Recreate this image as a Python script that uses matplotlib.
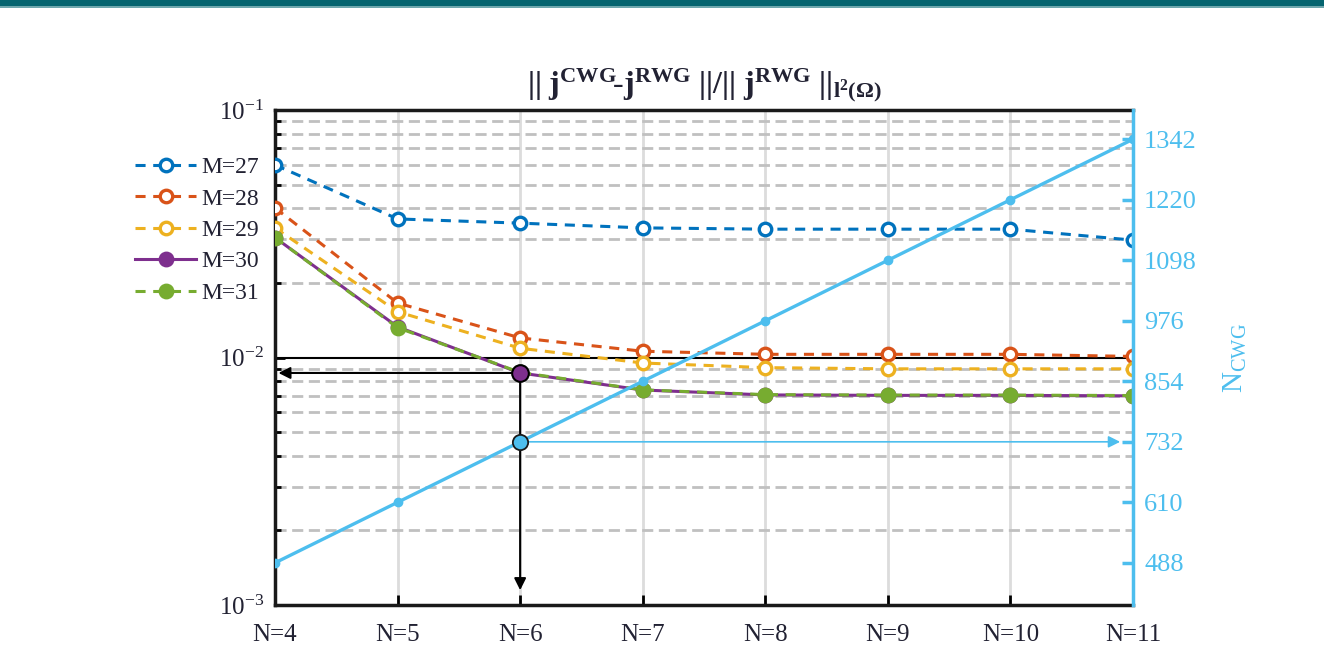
import matplotlib
matplotlib.use("Agg")
import matplotlib.pyplot as plt
from matplotlib.patches import Rectangle
from matplotlib.ticker import LogLocator, NullFormatter, FixedLocator

plt.rcParams['font.family'] = ['Liberation Serif', 'DejaVu Serif']
plt.rcParams['mathtext.fontset'] = 'custom'
plt.rcParams['mathtext.rm'] = 'Liberation Serif'
plt.rcParams['mathtext.it'] = 'Liberation Serif:italic'
plt.rcParams['mathtext.bf'] = 'Liberation Serif:bold'

# ---- data ----
n_values = [4, 5, 6, 7, 8, 9, 10, 11]
n_labels = ['N=4', 'N=5', 'N=6', 'N=7', 'N=8', 'N=9', 'N=10', 'N=11']
err_m27 = [0.0600, 0.0363, 0.0349, 0.0334, 0.0330, 0.0330, 0.0330, 0.0298]
err_m28 = [0.0402, 0.0166, 0.0120, 0.0106, 0.0103, 0.0103, 0.0103, 0.0101]
err_m29 = [0.0334, 0.0153, 0.0109, 0.0095, 0.0091, 0.0090, 0.0090, 0.0090]
err_m30 = [0.0305, 0.0133, 0.00866, 0.00739, 0.00706, 0.00703, 0.00703, 0.00700]
err_m31 = [0.0305, 0.0132, 0.00870, 0.00740, 0.00708, 0.00705, 0.00705, 0.00702]
n_cwg = [488, 610, 732, 854, 976, 1098, 1220, 1342]
cwg_ticks = [488, 610, 732, 854, 976, 1098, 1220, 1342]
selected_n = 6

C_BLUE = '#0072BD'
C_ORANGE = '#D95319'
C_YELLOW = '#EDB120'
C_PURPLE = '#7E2F8E'
C_GREEN = '#77AC30'
C_CYAN = '#4DBEEE'
TXT = '#222233'

fig = plt.figure(figsize=(13.24, 6.47), dpi=100)
fig.patches.append(Rectangle((0, 1 - 6 / 647), 1, 6 / 647, transform=fig.transFigure,
                             facecolor='#05646F', edgecolor='none'))
fig.patches.append(Rectangle((0, 1 - 8 / 647), 1, 2 / 647, transform=fig.transFigure,
                             facecolor='#6fa7ad', edgecolor='none'))

ax = fig.add_axes([275 / 1324, 1 - 605 / 647, (1133 - 275) / 1324, (605 - 110) / 647])
ax.set_yscale('log')
ax.set_xlim(4, 11)
ax.set_ylim(1e-3, 1e-1)

# grid
ax.yaxis.set_minor_locator(LogLocator(base=10, subs=range(2, 10)))
ax.yaxis.set_minor_formatter(NullFormatter())
ax.grid(True, which='minor', axis='y', color='#c0c0c0', linestyle=(0, (4, 2)), linewidth=2.0)
ax.grid(True, which='major', axis='x', color='#dcdcdc', linestyle='-', linewidth=2.0)
ax.axhline(1e-2, color='black', linewidth=1.5, zorder=2)

ls_dash = (0, (3.3, 2.5))
series = [
    (err_m27, C_BLUE, ls_dash, 'white', 'M=27'),
    (err_m28, C_ORANGE, ls_dash, 'white', 'M=28'),
    (err_m29, C_YELLOW, ls_dash, 'white', 'M=29'),
    (err_m30, C_PURPLE, '-', C_PURPLE, 'M=30'),
    (err_m31, C_GREEN, ls_dash, C_GREEN, 'M=31'),
]
handles = []
for vals, col, ls, mfc, lab in series:
    h, = ax.plot(n_values, vals, color=col, linestyle=ls, linewidth=2.2,
                 marker='o', markersize=9, markerfacecolor=mfc,
                 markeredgecolor=col, markeredgewidth=2.4, label=lab, zorder=3)
    handles.append(h)

# highlighted point and guide arrows
i_sel = n_values.index(selected_n)
sel_err = err_m30[i_sel]
ax.plot([selected_n], [sel_err], marker='o', markersize=12, markerfacecolor=C_PURPLE,
        markeredgecolor='black', markeredgewidth=1.5, zorder=6)
ax.annotate('', xy=(0.004, sel_err), xycoords=('axes fraction', 'data'),
            xytext=(selected_n, sel_err), textcoords='data',
            arrowprops=dict(arrowstyle='-|>,head_length=0.7,head_width=0.35',
                            color='black', lw=1.5, shrinkA=0, shrinkB=0), zorder=5)
ax.annotate('', xy=(selected_n, 0.03), xycoords=('data', 'axes fraction'),
            xytext=(selected_n, sel_err), textcoords='data',
            arrowprops=dict(arrowstyle='-|>,head_length=0.7,head_width=0.35',
                            color='black', lw=1.5, shrinkA=0, shrinkB=0), zorder=5)

ax.set_xticks(n_values)
ax.set_xticklabels(n_labels)
ax.tick_params(axis='x', which='major', direction='in', length=7, width=2,
               labelsize=18, labelcolor=TXT, pad=14, top=False)
ax.tick_params(axis='y', which='major', direction='in', length=7, width=2,
               labelsize=18, labelcolor=TXT, right=False, pad=8)
ax.tick_params(axis='y', which='minor', direction='in', length=4, width=2, right=False)
for s in ['left', 'bottom', 'top']:
    ax.spines[s].set_linewidth(2.5)
    ax.spines[s].set_color('#1a1a1a')
ax.spines['right'].set_visible(False)

ax.set_title(r'$\mathbf{||\ j^{CWG}\!\text{-}j^{RWG}\ ||/||\ j^{RWG}\ ||_{l^{2}(\Omega)}}$',
             fontsize=23, color=TXT, pad=12)

leg = ax.legend(handles=handles, loc='upper right', bbox_to_anchor=(-0.008, 0.925),
                frameon=False, fontsize=17, handlelength=2.6, handletextpad=0.2,
                labelspacing=0.42, borderaxespad=0, labelcolor=TXT)

# right axis: number of CWG basis functions
ax2 = ax.twinx()
ax2.set_ylim(403, 1401)
ax2.plot(n_values, n_cwg, color=C_CYAN, linewidth=2.4, marker='o', markersize=6,
         markerfacecolor=C_CYAN, markeredgecolor=C_CYAN, zorder=4)
sel_cwg = n_cwg[i_sel]
ax2.plot([selected_n], [sel_cwg], marker='o', markersize=11, markerfacecolor=C_CYAN,
         markeredgecolor='#1a1a1a', markeredgewidth=1.3, zorder=6)
ax2.annotate('', xy=(0.985, sel_cwg), xycoords=('axes fraction', 'data'),
             xytext=(selected_n, sel_cwg), textcoords='data',
             arrowprops=dict(arrowstyle='-|>,head_length=0.7,head_width=0.35',
                             color=C_CYAN, lw=1.2, shrinkA=0, shrinkB=0), zorder=5)
ax2.yaxis.set_major_locator(FixedLocator(cwg_ticks))
ax2.tick_params(axis='y', direction='in', length=8, width=2.5, colors=C_CYAN,
                labelsize=19, labelcolor=C_CYAN, pad=8)
ax2.spines['right'].set_color(C_CYAN)
ax2.spines['right'].set_linewidth(2.5)
for s in ['left', 'bottom', 'top']:
    ax2.spines[s].set_visible(False)
ax2.set_ylabel(r'$\mathrm{N}_{\mathrm{CWG}}$', color=C_CYAN, fontsize=21, labelpad=18)

fig.savefig('out.png', dpi=100, facecolor='white')
